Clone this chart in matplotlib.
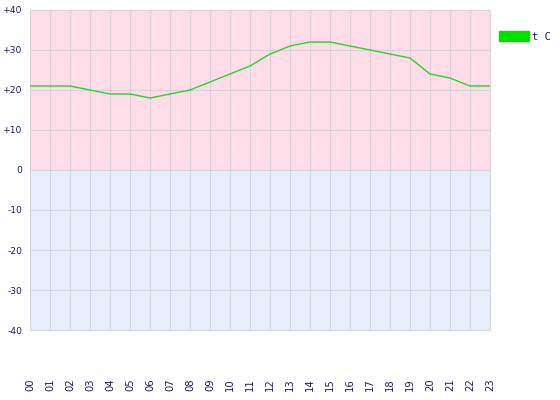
import matplotlib
matplotlib.use("Agg")
import matplotlib.pyplot as plt
from matplotlib.patches import Patch

hours = ["00", "01", "02", "03", "04", "05", "06", "07", "08", "09", "10", "11",
         "12", "13", "14", "15", "16", "17", "18", "19", "20", "21", "22", "23"]
temps = [21, 21, 21, 20, 19, 19, 18, 19, 20, 22, 24, 26,
         29, 31, 32, 32, 31, 30, 29, 28, 24, 23, 21, 21]
yticks = [40, 30, 20, 10, 0, -10, -20, -30, -40]
ytick_labels = ["+40", "+30", "+20", "+10", "0", "-10", "-20", "-30", "-40"]
series_name = "t C"

navy = "#1a1a6e"
fig = plt.figure(figsize=(5.6, 4.0), dpi=100)
ax = fig.add_axes([30 / 560, 70 / 400, 460 / 560, 320 / 400])
x = list(range(len(hours)))
ax.set_xlim(0, len(hours) - 1)
ax.set_ylim(-40, 40)
ax.axhspan(0, 40, color="#ffdde8", zorder=0)
ax.axhspan(-40, 0, color="#e8eefc", zorder=0)
ax.set_xticks(x)
ax.set_xticklabels(hours, rotation=90, fontsize=7.2, color=navy)
ax.set_yticks(yticks)
ax.set_yticklabels(ytick_labels, fontsize=6.6, color=navy)
ax.tick_params(axis="x", length=0, pad=35)
ax.tick_params(axis="y", length=0, pad=5.5)
ax.grid(True, color="#c8c8d0", linewidth=0.8, alpha=0.65, zorder=1)
for s in ax.spines.values():
    s.set_color("#d8d8dc")
    s.set_linewidth(0.8)
ax.spines["top"].set_visible(False)
ax.spines["left"].set_visible(False)
ax.plot(x, temps, color="#33cc33", linewidth=1.0, zorder=3)

fig.legend(handles=[Patch(facecolor="#00e000", edgecolor="#00e000", label=series_name)],
           loc="upper left", bbox_to_anchor=(490 / 560, 1 - 22 / 400),
           frameon=False, handlelength=2.8, handleheight=1.0, handletextpad=0.35,
           prop={"family": "DejaVu Sans Mono", "size": 7.5}, labelcolor=navy)
fig.savefig("out.png", dpi=100)
